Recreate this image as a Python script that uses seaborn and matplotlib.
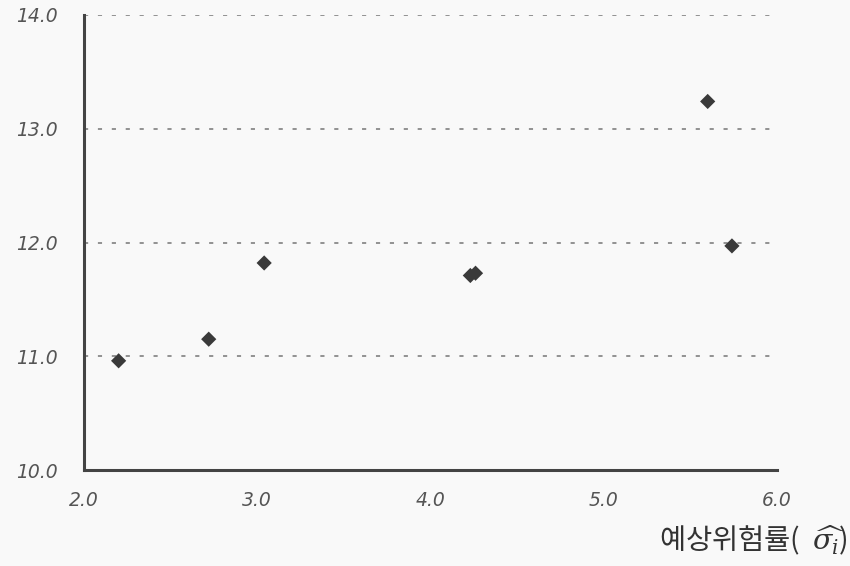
"""Scatter of expected risk vs value"""

import matplotlib
matplotlib.use("Agg")
import matplotlib.pyplot as plt
import seaborn as sb
import pandas as pd

# data
risk = [2.20, 2.72, 3.04, 4.23, 4.26, 5.60, 5.74]
value = [10.96, 11.15, 11.82, 11.71, 11.73, 13.24, 11.97]

x_ticks = [2.0, 3.0, 4.0, 5.0, 6.0]
y_ticks = [10.0, 11.0, 12.0, 13.0, 14.0]
x_label = "예상위험률(  $\\widehat{\\sigma_i}$)"

sb.set_theme(style="white")
plt.rcParams["font.family"] = ["DejaVu Sans", "Noto Sans CJK KR"]
plt.rcParams["mathtext.fontset"] = "dejavuserif"

bg = "#f9f9f9"
spine_col = "#444444"
text_col = "#555555"

df = pd.DataFrame({"risk": risk, "value": value})

fig = plt.figure(figsize=(8.5, 5.66), dpi=100, facecolor=bg)
ax = fig.add_axes([0.0988, 0.1696, 0.8153, 0.8039])
ax.set_facecolor(bg)

# dashed grid lines on the y ticks (above the baseline)
for yv in y_ticks[1:]:
    ax.axhline(yv, color="#8a8a8a", linestyle=(0, (2.3, 5.4)), linewidth=1.3, zorder=1)

sb.scatterplot(data=df, x="risk", y="value", marker="D", s=60, color="#3a3a3a",
               edgecolor="none", legend=False, ax=ax, zorder=3)

ax.set_xlim(x_ticks[0], x_ticks[-1])
ax.set_ylim(y_ticks[0], y_ticks[-1])
ax.set_xticks(x_ticks)
ax.set_yticks(y_ticks)
ax.set_xticklabels([f"{t:.1f}" for t in x_ticks])
ax.set_yticklabels([f"{t:.1f}" for t in y_ticks])

for side in ["top", "right"]:
    ax.spines[side].set_visible(False)
for side in ["left", "bottom"]:
    ax.spines[side].set_color(spine_col)
    ax.spines[side].set_linewidth(2.2)

ax.tick_params(axis="both", direction="in", length=5, width=1.8, color=spine_col,
               labelcolor=text_col, labelsize=13.5)
ax.tick_params(axis="y", pad=19)
ax.tick_params(axis="x", pad=15)
for lbl in ax.get_xticklabels() + ax.get_yticklabels():
    lbl.set_fontstyle("italic")

ax.set_xlabel("")
ax.set_ylabel("")

fig.text(0.997, 0.016, x_label, ha="right", va="bottom", fontsize=20.5,
         color="#333333", family=["Noto Sans CJK KR", "DejaVu Sans"])

plt.savefig("out.png", dpi=100, facecolor=bg)
plt.close()
